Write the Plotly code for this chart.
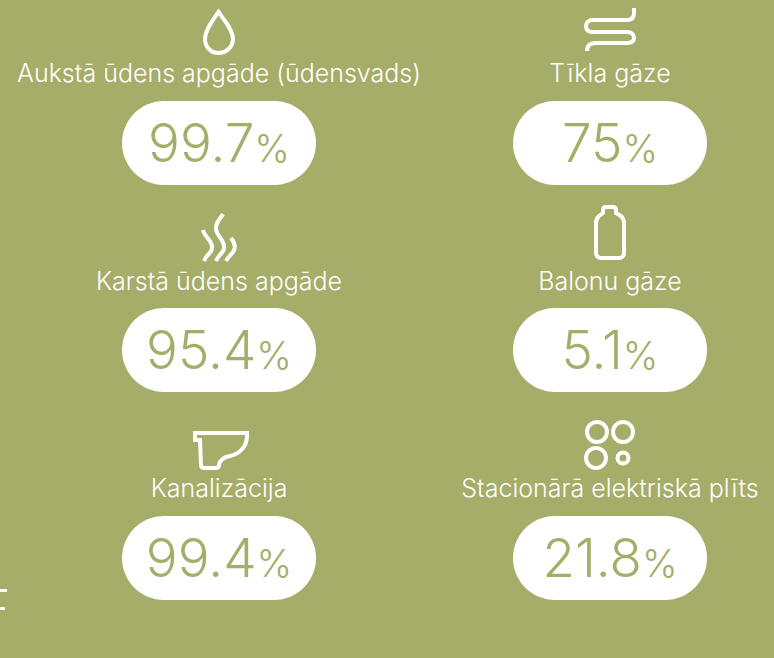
import plotly.graph_objects as go

labels = ["Aukstā ūdens apgāde (ūdensvads)", "Karstā ūdens apgāde", "Kanalizācija",
          "Tīkla gāze", "Balonu gāze", "Stacionārā elektriskā plīts"]
values = ["99.7", "95.4", "99.4", "75", "5.1", "21.8"]
col_x = [219, 219, 219, 610, 610, 610]
pill_y = [143, 350, 558, 143, 350, 558]
value_y = [149, 356, 564, 149, 356, 564]
label_y = [76, 284, 491, 76, 284, 491]

BG = "#a5ad68"
WHITE = "#ffffff"
FONT = "Inter"

shapes = []
def pill(cx, cy, w=194, h=84):
    x0, x1, y0, y1 = cx - w/2, cx + w/2, cy - h/2, cy + h/2
    r = h/2
    k = r * 0.5523
    p = (f"M{x0+r},{y0} L{x1-r},{y0} C{x1-r+k},{y0} {x1},{cy-k} {x1},{cy} "
         f"C{x1},{cy+k} {x1-r+k},{y1} {x1-r},{y1} L{x0+r},{y1} "
         f"C{x0+r-k},{y1} {x0},{cy+k} {x0},{cy} C{x0},{cy-k} {x0+r-k},{y0} {x0+r},{y0} Z")
    shapes.append(dict(type="path", path=p, xref="x", yref="y", fillcolor=WHITE, line_width=0, layer="below"))

def icon(path, w=4):
    shapes.append(dict(type="path", path=path, xref="x", yref="y", line=dict(color=WHITE, width=w),
                       fillcolor="rgba(0,0,0,0)"))

def ring(cx, cy, r, w=4):
    shapes.append(dict(type="circle", xref="x", yref="y", x0=cx-r, x1=cx+r, y0=cy-r, y1=cy+r,
                       line=dict(color=WHITE, width=w), fillcolor="rgba(0,0,0,0)"))

for cx, cy in zip(col_x, pill_y):
    pill(cx, cy)

# drop
icon("M218.5,12 C213,20 205,30 205,39 C205,47 211,53 218.5,53 C226,53 233,47 233,39 C233,30 224,20 218.5,12 Z")
# pipe
icon("M634,8 L634,13 C634,18 631,20 627,20 L593,20 C588,20 586,23 586,26 C586,30 588,32 593,32 "
     "L627,32 C632,32 634,35 634,38 C634,41 632,43 627,43 L596,43 C590,43 587,46 587,51")
# steam
icon("M203,230 C205,238 213,241 212,248 C212,253 206,255 204,261")
icon("M223,214 C220,220 215,222 216,229 C217,237 225,240 224,248 C224,253 218,255 216,261")
icon("M231,238 C235,243 236,248 233,252 C231,255 228,257 226,261")
# bottle
icon("M603,210 C603,208 604,207 606,207 L613,207 C615,207 616,208 616,210 L616,213 L621,216 "
     "C623,218 624,220 624,223 L624,253 C624,256 622,258 619,258 L601,258 C598,258 596,256 596,253 "
     "L596,223 C596,220 597,218 599,216 L603,213 Z")
# toilet
icon("M195,433 L247,433 L247,436 C247,446 240,454 230,456 C223,457 220,460 219,465 C219,467 218,468 216,468 "
     "L204,468 C202,468 201,467 201,465 L200,440 L195,440 Z")
# burners
ring(597, 432, 10)
ring(623, 432, 10)
ring(596, 458, 10)
ring(623, 458, 5.5)
# cropped fragment at left edge
shapes.append(dict(type="rect", xref="x", yref="y", x0=0, x1=7, y0=589, y1=592, fillcolor=WHITE, line_width=0))
shapes.append(dict(type="rect", xref="x", yref="y", x0=0, x1=5, y0=607, y1=610, fillcolor=WHITE, line_width=0))

fig = go.Figure()
fig.add_trace(go.Scatter(x=col_x, y=label_y, mode="text", text=labels, textposition="middle center",
                         textfont=dict(family=FONT, size=25, color=WHITE, weight=300), hoverinfo="skip"))
fig.add_trace(go.Scatter(x=col_x, y=value_y, mode="text",
                         text=[f'{v}<span style="font-size:38px">%</span>' for v in values],
                         textposition="middle center",
                         textfont=dict(family=FONT, size=53, color=BG, weight=300), hoverinfo="skip"))
fig.update_layout(width=774, height=658, margin=dict(l=0, r=0, t=0, b=0),
                  paper_bgcolor=BG, plot_bgcolor=BG, showlegend=False, shapes=shapes,
                  xaxis=dict(range=[0, 774], visible=False, fixedrange=True),
                  yaxis=dict(range=[658, 0], visible=False, fixedrange=True))
fig.write_html("out.html", config={"displayModeBar": False},
               post_script="document.body.style.margin='0';document.body.style.overflow='hidden';document.documentElement.style.overflow='hidden';")
